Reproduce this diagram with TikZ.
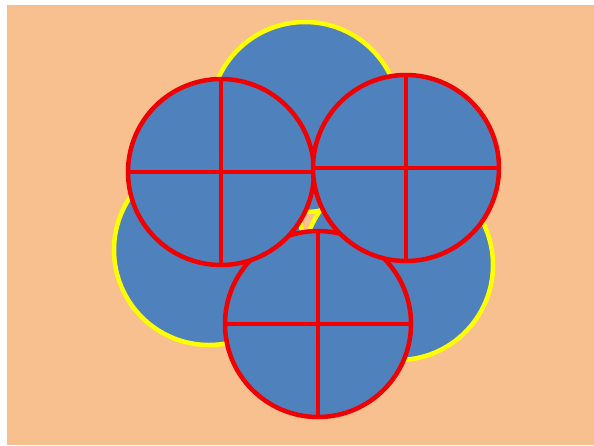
\documentclass[tikz,border=0pt]{standalone}
\begin{document}
\begin{tikzpicture}[x=1pt,y=-1pt]
\definecolor{peach}{RGB}{249,192,143}
\definecolor{cblue}{RGB}{79,129,189}
\definecolor{cred}{RGB}{240,0,0}
\definecolor{cyellow}{RGB}{255,255,0}
\tikzset{
  ycirc/.style={fill=cblue,draw=cyellow,line width=4.5pt},
  rcirc/.style={fill=cblue,draw=cred,line width=4.5pt},
  rline/.style={draw=cred,line width=4.5pt}
}
\useasboundingbox (0,0) rectangle (594,445);
\fill[white] (0,0) rectangle (594,445);
\fill[peach] (7,5) rectangle (594,445);
% yellow circles
\coordinate (yt) at (305,117);
\coordinate (yl) at (209,250);
\coordinate (yr) at (398,265);
\draw[ycirc] (yt) circle (95);
\draw[ycirc] (yl) circle (95);
\draw[ycirc] (yr) circle (95);
% red circles with crosses
\foreach \n/\cx/\cy in {rb/318/324, rl/221/172, rr/406/168}{
  \coordinate (\n) at (\cx,\cy);
  \draw[rcirc] (\n) circle (93);
  \draw[rline] ([xshift=-93pt]\n) -- ([xshift=93pt]\n);
  \draw[rline] ([yshift=93pt]\n) -- ([yshift=-93pt]\n);
}
\end{tikzpicture}
\end{document}
